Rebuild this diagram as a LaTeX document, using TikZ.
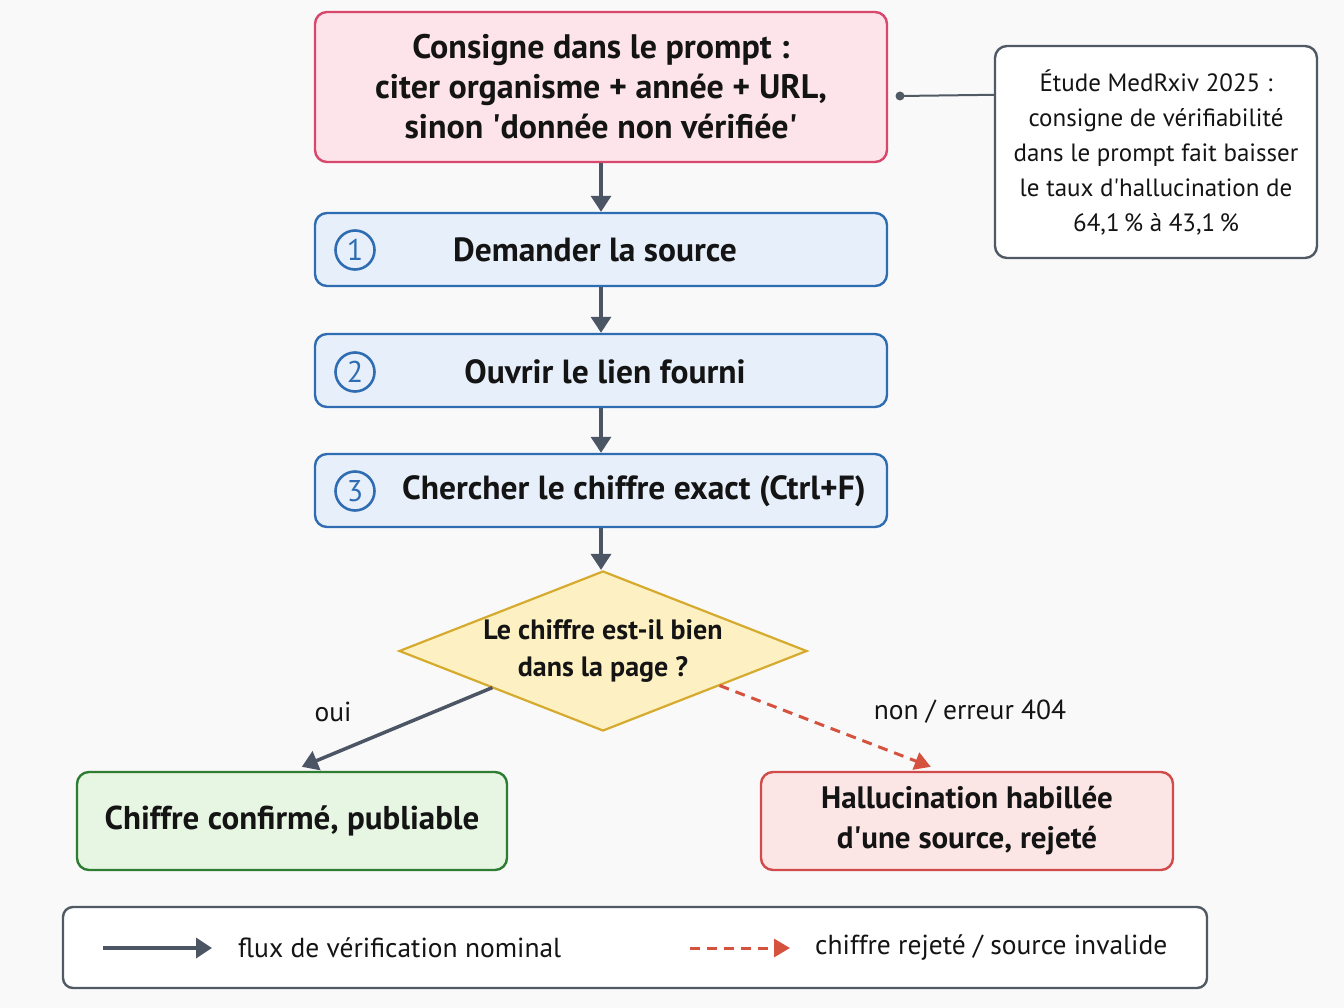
\documentclass[tikz,border=0pt]{standalone}
\usepackage{fontspec}
\setmainfont{PT Sans}
\usetikzlibrary{arrows.meta,shapes.geometric,calc}
\definecolor{bg}{HTML}{F9F9FA}
\definecolor{arr}{HTML}{4B5563}
\definecolor{pinkfill}{HTML}{FCE4EA}
\definecolor{pinkline}{HTML}{D8476C}
\definecolor{bluefill}{HTML}{E7F0FA}
\definecolor{blueline}{HTML}{2F6DB3}
\definecolor{noteline}{HTML}{505A64}
\definecolor{yelfill}{HTML}{FDF0C2}
\definecolor{yelline}{HTML}{D6AA2C}
\definecolor{grnfill}{HTML}{E7F6E2}
\definecolor{grnline}{HTML}{2E7D32}
\definecolor{redfill}{HTML}{FCE5E5}
\definecolor{redline}{HTML}{D14B4B}
\definecolor{dashred}{HTML}{D5533E}
\definecolor{txt}{HTML}{141414}
\tikzset{
  box/.style={draw, rounded corners=12pt, line width=2.4pt, align=center, text=txt, inner sep=0pt},
  stepbox/.style={box, fill=bluefill, draw=blueline, minimum width=572pt, minimum height=73pt},
  steptext/.style={lbl, font=\fontsize{33.5}{36}\selectfont\bfseries},
  num/.style={circle, draw=blueline, line width=2.6pt, minimum size=39pt, inner sep=0pt, text=blueline, font=\fontsize{30}{30}\selectfont},
  flow/.style={draw=arr, line width=3.5pt, -{Triangle[length=16pt,width=20pt]}},
  rej/.style={draw=dashred, line width=3pt, dash pattern=on 10pt off 7pt, -{Triangle[length=16pt,width=18pt,fill=dashred]}},
  lbl/.style={text=txt, font=\fontsize{27.5}{30}\selectfont, inner sep=0pt},
}
\begin{document}
\begin{tikzpicture}[x=1pt,y=-1pt]
\useasboundingbox[fill=bg] (0,0) rectangle (1344,1008);
% top box
\node[box, fill=pinkfill, draw=pinkline, minimum width=572pt, minimum height=150pt,
      font=\fontsize{34}{40}\selectfont\bfseries] (top) at (601,87)
  {Consigne dans le prompt :\\citer organisme + année + URL,\\sinon \textquotesingle donnée non vérifiée\textquotesingle};
% note
\node[box, fill=white, draw=noteline, minimum width=322pt, minimum height=212pt,
      font=\fontsize{25}{35}\selectfont] (note) at (1156,152)
  {Étude MedRxiv 2025 :\\consigne de vérifiabilité\\dans le prompt fait baisser\\le taux d\textquotesingle hallucination de\\64,1\,\% à 43,1\,\%};
\coordinate (dot) at (900,96);
\coordinate (notein) at ($(note.north west)+(0,50)$);
\draw[noteline, line width=2pt] (dot) -- (notein);
\fill[noteline] (dot) circle (4.5pt);
% steps
\node[stepbox] (s1) at (601,249.5) {};
\node[stepbox] (s2) at (601,370.5) {};
\node[stepbox] (s3) at (601,490.5) {};
\node[num] (n1) at (355,250) {1};
\node[num] (n2) at (355,372) {2};
\node[num] (n3) at (355,491) {3};
\node[steptext] (t1) at (595,250) {Demander la source};
\node[steptext] (t2) at (605,372) {Ouvrir le lien fourni};
\node[steptext] (t3) at (634,491) {Chercher le chiffre exact (Ctrl+F)};
% decision
\node[diamond, aspect=2.55, draw=yelline, fill=yelfill, line width=2.2pt, inner sep=0pt,
      minimum width=408pt, minimum height=160pt, align=center, text=txt,
      font=\fontsize{28}{37}\selectfont\bfseries] (dec) at (603,651)
  {Le chiffre est-il bien\\dans la page ?};
% outcomes
\node[box, fill=grnfill, draw=grnline, minimum width=430pt, minimum height=98pt,
      font=\fontsize{33}{40}\selectfont\bfseries] (ok) at (292,821)
  {Chiffre confirmé, publiable};
\node[box, fill=redfill, draw=redline, minimum width=412pt, minimum height=98pt,
      font=\fontsize{31}{40}\selectfont\bfseries] (ko) at (967,821)
  {Hallucination habillée\\d\textquotesingle une source, rejeté};
% connectors
\draw[flow] (top.south) -- (s1.north);
\draw[flow] (s1.south) -- (s2.north);
\draw[flow] (s2.south) -- (s3.north);
\draw[flow] (s3.south) -- (s3.south |- dec.north);
\coordinate (okin) at ($(ok.north west)+(226,-4)$);
\coordinate (koin) at ($(ko.north west)+(171,-4)$);
\draw[flow] ($(dec.south west)+(-8,-4)$) -- (okin);
\draw[rej] ($(dec.south east)+(14,-6)$) -- (koin);
\node[lbl] (oui) at (333,712) {oui};
\node[lbl] (non) at (970,712) {non / erreur 404};
% legend
\node[box, fill=white, draw=noteline, rounded corners=10pt, minimum width=1144pt, minimum height=81pt] (leg) at (635,947.5) {};
\coordinate (la1) at (103,948);
\coordinate (la2) at (212,948);
\coordinate (lb1) at (690,948);
\coordinate (lb2) at (790,948);
\draw[flow] (la1) -- (la2);
\draw[rej] (lb1) -- (lb2);
\node[lbl, anchor=west] (l1) at (238,948) {flux de vérification nominal};
\node[lbl, anchor=west] (l2) at (815,948) {chiffre rejeté / source invalide};
\end{tikzpicture}
\end{document}
